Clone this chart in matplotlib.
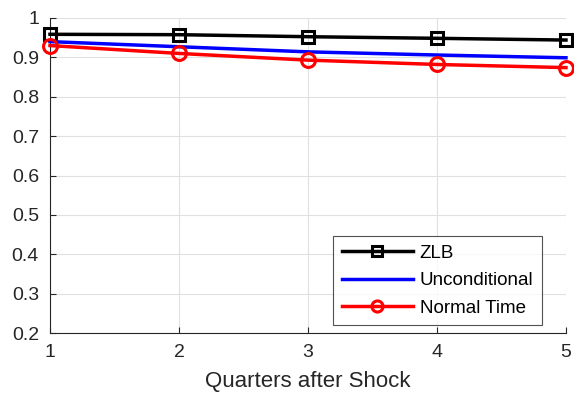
import matplotlib
matplotlib.use("Agg")
import matplotlib.pyplot as plt

quarters = [1, 2, 3, 4, 5]
zlb = [0.9586, 0.9576, 0.9525, 0.9484, 0.944]
unconditional = [0.940, 0.927, 0.914, 0.906, 0.899]
normal_time = [0.930, 0.910, 0.893, 0.882, 0.874]
yticks = [0.2, 0.3, 0.4, 0.5, 0.6, 0.7, 0.8, 0.9, 1.0]
ytick_labels = ["0.2", "0.3", "0.4", "0.5", "0.6", "0.7", "0.8", "0.9", "1"]

plt.rcParams['font.family'] = ['Liberation Sans', 'DejaVu Sans']

fig = plt.figure(figsize=(5.74, 4.0), dpi=100)
ax = fig.add_axes([0.0871, 0.1675, 0.8989, 0.7875])

ax.plot(quarters, zlb, color='black', lw=2.5, marker='s', ms=9, mfc='none', mew=2.2, label='ZLB', clip_on=False, zorder=3)
ax.plot(quarters, unconditional, color='blue', lw=2.5, label='Unconditional', clip_on=False, zorder=3)
ax.plot(quarters, normal_time, color='red', lw=2.5, marker='o', ms=10, mfc='none', mew=2.2, label='Normal Time', clip_on=False, zorder=3)

ax.set_xlim(1, 5)
ax.set_ylim(0.2, 1.0)
ax.set_xticks(quarters)
ax.set_yticks(yticks)
ax.set_yticklabels(ytick_labels)
ax.grid(True, color='#e0e0e0', lw=0.8)
ax.set_axisbelow(True)
for s in ['top', 'right']:
    ax.spines[s].set_visible(False)
for s in ['left', 'bottom']:
    ax.spines[s].set_color('#262626')
    ax.spines[s].set_linewidth(0.8)
ax.tick_params(direction='in', length=4, colors='#262626', labelsize=14, pad=8)
ax.set_xlabel('Quarters after Shock', fontsize=16, color='#262626', labelpad=7)

leg = ax.legend(loc='lower right', fontsize=13.5, frameon=True, fancybox=False,
                edgecolor='#262626', handlelength=3.8, borderaxespad=0.0,
                labelspacing=0.55, handletextpad=0.35, borderpad=0.45,
                markerscale=0.8,
                bbox_to_anchor=(0.953, 0.025))
leg.get_frame().set_linewidth(0.8)

fig.savefig('out.png', dpi=100)
